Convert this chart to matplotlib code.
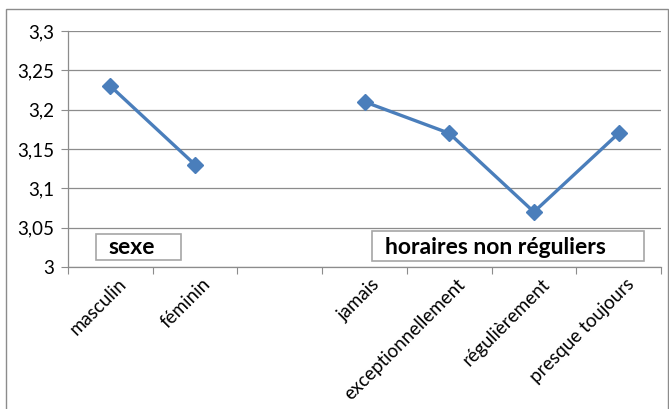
import numpy as np
import matplotlib
matplotlib.use('Agg')
import matplotlib.pyplot as plt
import matplotlib.transforms as mtransforms
from matplotlib.patches import Rectangle

plt.rcParams['font.family'] = ['Lato', 'DejaVu Sans']

# Data (empty slot between the two groups)
categories = ['masculin', 'féminin', '', 'jamais', 'exceptionnellement',
              'régulièrement', 'presque toujours']
values = [3.23, 3.13, np.nan, 3.21, 3.17, 3.07, 3.17]
y_ticks = [3.0, 3.05, 3.1, 3.15, 3.2, 3.25, 3.3]
y_labels = ['3', '3,05', '3,1', '3,15', '3,2', '3,25', '3,3']
group_labels = ['sexe', 'horaires non réguliers']

W, H = 669, 409
fig = plt.figure(figsize=(W / 100, H / 100), dpi=100)
ax = fig.add_axes([68 / W, 1 - 267 / H, (661 - 68) / W, (267 - 31) / H])

line_color = '#4A7EBB'
x = np.arange(len(categories))
ax.plot(x, values, color=line_color, lw=2.4, marker='D', markersize=8,
        markerfacecolor=line_color, markeredgecolor=line_color)

ax.set_xlim(-0.5, len(categories) - 0.5)
ax.set_ylim(3.0, 3.3)
ax.set_yticks(y_ticks)
ax.set_yticklabels(y_labels, fontsize=13.5)
ax.yaxis.grid(True, color='#8c8c8c', lw=0.9)
ax.set_axisbelow(True)

# category ticks sit between slots, labels under the slot centres
ax.set_xticks(np.arange(len(categories) + 1) - 0.5)
ax.set_xticklabels([])
ax.set_xticks(x, minor=True)
ax.set_xticklabels(categories, minor=True, rotation=45, ha='right',
                   rotation_mode='anchor', fontsize=13.5)
ax.tick_params(axis='x', which='minor', length=0, pad=6)
ax.tick_params(axis='x', which='major', length=5, color='#8c8c8c', direction='out')
ax.tick_params(axis='y', length=5, color='#8c8c8c', direction='out', pad=5)
shift = mtransforms.ScaledTranslation(7 / 100, 0, fig.dpi_scale_trans)
for lbl in ax.get_xticklabels(minor=True):
    lbl.set_transform(lbl.get_transform() + shift)

for s in ['top', 'right']:
    ax.spines[s].set_visible(False)
for s in ['left', 'bottom']:
    ax.spines[s].set_color('#8c8c8c')
    ax.spines[s].set_linewidth(0.9)

# group label boxes
boxes = [(96, 234, 85, 26), (372, 231, 272, 30)]
for (bx, by, bw, bh), lab in zip(boxes, group_labels):
    fig.patches.append(Rectangle((bx / W, 1 - (by + bh) / H), bw / W, bh / H,
                                 transform=fig.transFigure, facecolor='white',
                                 edgecolor='#a6a6a6', lw=1.2, zorder=5))
    tx = bx + 12 if lab == 'sexe' else bx + 13
    fig.text(tx / W, 1 - (by + bh / 2 + 1) / H, lab, fontsize=16.5,
             fontweight='bold', ha='left', va='center', zorder=6)

# outer chart frame
fig.patches.append(Rectangle((6 / W, -0.01), (W - 7) / W, 1 - 9 / H + 0.01,
                             transform=fig.transFigure, fill=False,
                             edgecolor='#8c8c8c', lw=1.0))

fig.savefig('out.png', dpi=100)
